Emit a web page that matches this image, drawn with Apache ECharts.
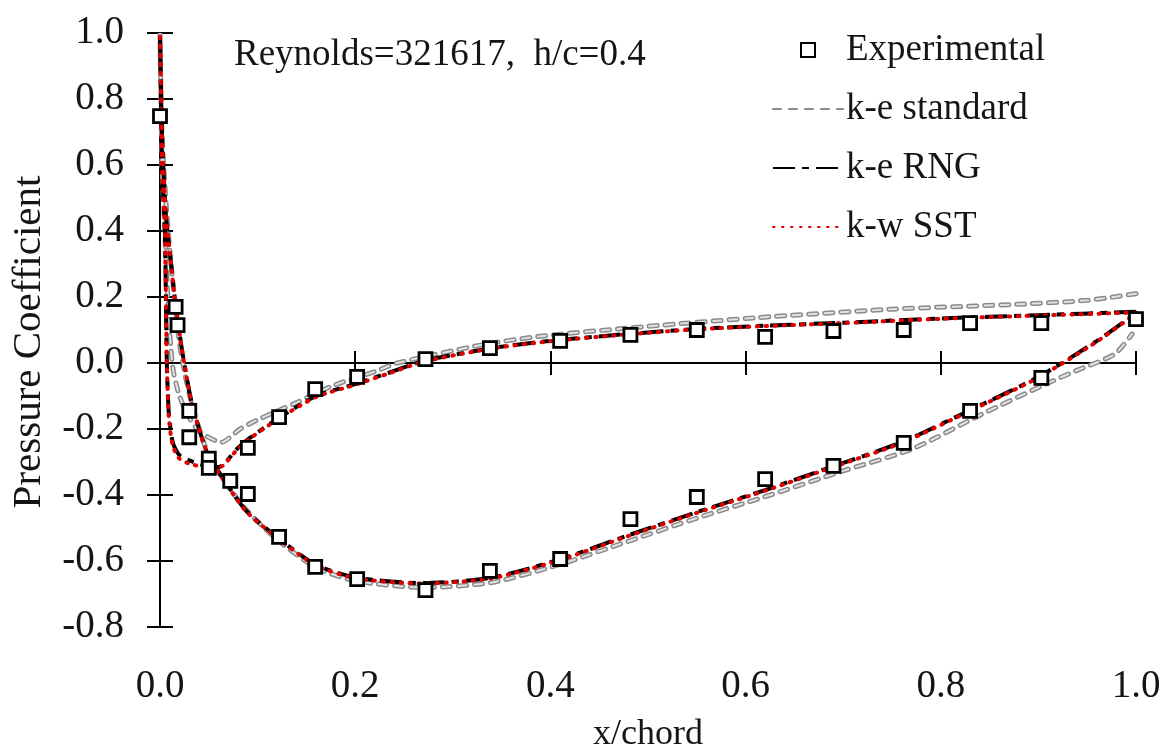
<!DOCTYPE html>
<html>
<head>
<meta charset="utf-8">
<script src="https://cdn.jsdelivr.net/npm/echarts@6/dist/echarts.min.js"></script>
<style>
  html, body { margin: 0; padding: 0; background: #fff; }
  #chart { width: 1171px; height: 749px; }
</style>
</head>
<body>
<div id="chart"></div>
<script>
// Axis ticks
const xTicks = [0, 0.2, 0.4, 0.6, 0.8, 1.0];
const yTicks = [-0.8, -0.6, -0.4, -0.2, 0, 0.2, 0.4, 0.6, 0.8, 1.0];

// Experimental pressure coefficient
const expX  = [0.0, 0.016, 0.018, 0.03, 0.03, 0.05, 0.05, 0.072, 0.09, 0.09, 0.122, 0.122, 0.159, 0.159,
               0.202, 0.202, 0.272, 0.272, 0.338, 0.338, 0.41, 0.41, 0.482, 0.482, 0.55, 0.55,
               0.62, 0.62, 0.69, 0.69, 0.762, 0.762, 0.83, 0.83, 0.903, 0.903, 1.0];
const expCp = [0.748, 0.17, 0.115, -0.145, -0.225, -0.29, -0.318, -0.357, -0.257, -0.397, -0.164, -0.527, -0.079, -0.618,
               -0.042, -0.655, 0.012, -0.688, 0.045, -0.63, 0.067, -0.594, 0.085, -0.473, 0.10, -0.406,
               0.079, -0.352, 0.097, -0.312, 0.10, -0.242, 0.121, -0.145, 0.121, -0.045, 0.133];

// k-e standard: upper branch from trailing edge to stagnation, then lower branch back to trailing edge
const stdX  = [1.0, 0.95, 0.88, 0.75, 0.61, 0.48, 0.387, 0.33, 0.243, 0.222, 0.176, 0.14, 0.103, 0.082, 0.063,
               0.04, 0.028, 0.02, 0.014, 0.011, 0.008, 0.005, 0.002, 0.001, 0.0,
               0.002, 0.007, 0.013, 0.02, 0.026, 0.034, 0.05, 0.07, 0.09, 0.12, 0.16, 0.2, 0.27, 0.34, 0.41,
               0.48, 0.55, 0.62, 0.7, 0.771, 0.842, 0.903, 0.938, 0.978, 0.996];
const stdCp = [0.21, 0.19, 0.178, 0.163, 0.137, 0.106, 0.08, 0.055, 0.0, -0.024, -0.07, -0.12, -0.168, -0.2, -0.24,
               -0.206, -0.155, -0.1, -0.03, 0.05, 0.2, 0.4, 0.6, 0.8, 1.0,
               0.7, 0.45, 0.25, 0.06, -0.04, -0.14, -0.28, -0.375, -0.45, -0.535, -0.62, -0.66, -0.68, -0.665, -0.61,
               -0.54, -0.47, -0.405, -0.327, -0.26, -0.155, -0.07, -0.024, 0.027, 0.088];

// k-e RNG
const rngX  = [1.0, 0.9, 0.8, 0.7, 0.62, 0.55, 0.48, 0.4, 0.34, 0.27, 0.236, 0.2, 0.16, 0.12, 0.092, 0.079, 0.06,
               0.045, 0.03, 0.02, 0.013, 0.009, 0.007, 0.006, 0.005, 0.002, 0.001, 0.0,
               0.002, 0.006, 0.011, 0.015, 0.022, 0.026, 0.032, 0.04, 0.048, 0.058, 0.069, 0.089, 0.121, 0.159,
               0.2, 0.27, 0.34, 0.41, 0.48, 0.55, 0.62, 0.69, 0.76, 0.83, 0.9, 0.96, 1.0];
const rngCp = [0.155, 0.145, 0.135, 0.122, 0.113, 0.103, 0.088, 0.067, 0.045, 0.006, -0.028, -0.064, -0.10, -0.17, -0.227, -0.26, -0.315,
               -0.31, -0.295, -0.28, -0.24, -0.15, 0.0, 0.2, 0.4, 0.6, 0.8, 1.0,
               0.7, 0.45, 0.31, 0.2, 0.05, -0.02, -0.115, -0.2, -0.27, -0.32, -0.37, -0.45, -0.53, -0.61,
               -0.65, -0.667, -0.65, -0.595, -0.522, -0.452, -0.385, -0.313, -0.24, -0.143, -0.042, 0.067, 0.152];

// k-w SST
const sstX  = [1.0, 0.9, 0.8, 0.7, 0.62, 0.55, 0.48, 0.4, 0.34, 0.27, 0.236, 0.2, 0.16, 0.12, 0.092, 0.079, 0.06,
               0.045, 0.03, 0.02, 0.013, 0.009, 0.007, 0.006, 0.005, 0.002, 0.001, 0.0,
               0.002, 0.006, 0.011, 0.015, 0.022, 0.026, 0.032, 0.04, 0.048, 0.058, 0.069, 0.089, 0.121, 0.159,
               0.2, 0.27, 0.34, 0.41, 0.48, 0.55, 0.62, 0.69, 0.76, 0.83, 0.9, 0.96, 1.0];
const sstCp = [0.153, 0.144, 0.134, 0.121, 0.112, 0.102, 0.087, 0.066, 0.044, 0.004, -0.03, -0.066, -0.103, -0.172, -0.229, -0.263, -0.317,
               -0.315, -0.305, -0.29, -0.25, -0.16, 0.0, 0.2, 0.4, 0.6, 0.8, 1.0,
               0.7, 0.45, 0.31, 0.2, 0.05, -0.02, -0.115, -0.2, -0.27, -0.322, -0.372, -0.452, -0.532, -0.612,
               -0.652, -0.668, -0.652, -0.597, -0.524, -0.454, -0.387, -0.315, -0.242, -0.145, -0.044, 0.065, 0.15];

const FONT = 'Liberation Serif, Times New Roman, serif';
const INK = '#151515';
const NO_SYMBOL = { color: 'rgba(0,0,0,0)', borderColor: 'rgba(0,0,0,0)', borderWidth: 0 };

function pairs(xs, ys) { return xs.map((x, i) => [x, ys[i]]); }
function fmt(v) { return Math.abs(v) < 1e-9 ? '0.0' : Number(v).toFixed(1); }

const xRange = { min: xTicks[0], max: xTicks[xTicks.length - 1], interval: xTicks[1] - xTicks[0] };
const yRange = { min: yTicks[0], max: yTicks[yTicks.length - 1], interval: 0.2 };

const chart = echarts.init(document.getElementById('chart'), null, { renderer: 'canvas' });

chart.setOption({
  backgroundColor: '#fff',
  animation: false,
  textStyle: { fontFamily: FONT, color: INK },
  title: {
    text: 'Reynolds=321617,  h/c=0.4',
    left: 234, top: 37,
    padding: 0,
    textStyle: { fontFamily: FONT, fontSize: 37, fontWeight: 'normal', color: INK }
  },
  legend: {
    orient: 'vertical',
    left: 772, top: 30,
    padding: 0,
    itemWidth: 70, itemHeight: 14, itemGap: 19,
    textStyle: { fontFamily: FONT, fontSize: 37, color: INK, lineHeight: 40, padding: [0, 0, 0, -2] },
    data: [
      { name: 'Experimental', icon: 'path://M0,0L10,0L10,10L0,10Z' },
      'k-e standard', 'k-e RNG', 'k-w SST'
    ]
  },
  grid: { left: 160, right: 35, top: 33, bottom: 122, containLabel: false, outerBoundsMode: 'none' },
  xAxis: [
    { // tick labels and title along the bottom edge
      type: 'value', position: 'bottom', ...xRange,
      axisLine: { show: false, onZero: false }, axisTick: { show: false }, splitLine: { show: false },
      axisLabel: { formatter: fmt, fontFamily: FONT, fontSize: 39, color: INK, margin: 40 },
      name: 'x/chord', nameLocation: 'middle', nameGap: 90,
      nameTextStyle: { fontFamily: FONT, fontSize: 36, color: INK }
    },
    { // zero line with downward ticks
      type: 'value', position: 'bottom', ...xRange,
      axisLine: { show: true, onZero: true, onZeroAxisIndex: 0, lineStyle: { color: '#000', width: 2 } },
      axisTick: { show: true, inside: false, length: 12, lineStyle: { color: '#000', width: 2 } },
      axisLabel: { show: false }, splitLine: { show: false }
    },
    { // zero line upward ticks
      type: 'value', position: 'bottom', ...xRange,
      axisLine: { show: false, onZero: true, onZeroAxisIndex: 0 },
      axisTick: { show: true, inside: true, length: 12, lineStyle: { color: '#000', width: 2 } },
      axisLabel: { show: false }, splitLine: { show: false }
    }
  ],
  yAxis: [
    {
      type: 'value', position: 'left', ...yRange,
      axisLine: { show: true, onZero: false, lineStyle: { color: '#000', width: 2 } },
      axisTick: { show: true, inside: false, length: 13, lineStyle: { color: '#000', width: 2 } },
      axisLabel: { formatter: fmt, fontFamily: FONT, fontSize: 39, color: INK, margin: 36 },
      splitLine: { show: false },
      name: 'Pressure Coefficient', nameLocation: 'middle', nameGap: 110, nameRotate: 90,
      nameTextStyle: { fontFamily: FONT, fontSize: 41, color: INK, padding: [0, 24, 0, 0] }
    },
    {
      type: 'value', position: 'left', ...yRange,
      axisLine: { show: false, onZero: false },
      axisTick: { show: true, inside: true, length: 13, lineStyle: { color: '#000', width: 2 } },
      axisLabel: { show: false }, splitLine: { show: false }
    }
  ],
  series: [
    {
      name: 'k-e standard', type: 'line', data: pairs(stdX, stdCp),
      symbol: 'none', smooth: 0.25, z: 2, itemStyle: NO_SYMBOL,
      lineStyle: { color: '#8a8a8a', width: 5, type: [8, 8], cap: 'round' }
    },
    {
      name: 'k-e standard core', type: 'line', data: pairs(stdX, stdCp),
      symbol: 'none', smooth: 0.25, z: 3, silent: true, itemStyle: NO_SYMBOL,
      lineStyle: { color: '#e2e2e2', width: 2, type: [8, 8], cap: 'round' }
    },
    {
      name: 'k-e RNG', type: 'line', data: pairs(rngX, rngCp),
      symbol: 'none', smooth: 0.25, z: 4, itemStyle: NO_SYMBOL,
      lineStyle: { color: '#000', width: 4, type: [22, 7, 7, 7] }
    },
    {
      name: 'k-w SST', type: 'line', data: pairs(sstX, sstCp),
      symbol: 'none', smooth: 0.25, z: 5, itemStyle: NO_SYMBOL,
      lineStyle: { color: '#e00000', width: 4, type: [1.5, 7.5], cap: 'round' }
    },
    {
      name: 'Experimental', type: 'scatter', data: pairs(expX, expCp),
      symbol: 'rect', symbolSize: 13, z: 6,
      itemStyle: { color: '#fff', borderColor: '#000', borderWidth: 2.8, opacity: 1 }
    }
  ]
});
</script>
</body>
</html>
